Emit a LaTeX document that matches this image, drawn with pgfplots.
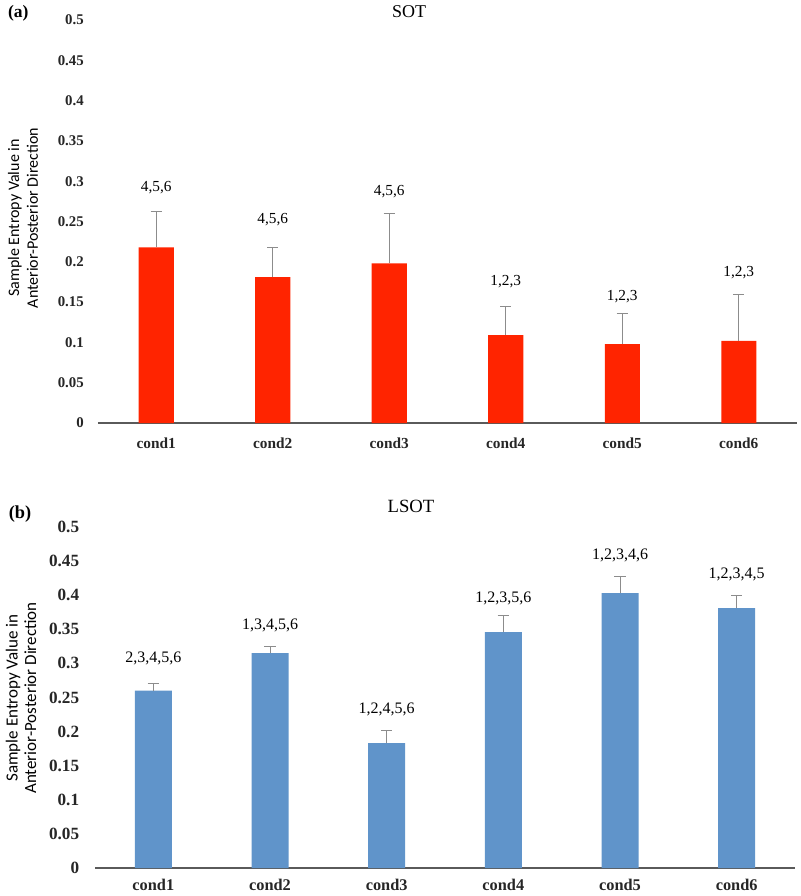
\documentclass[border=0pt]{standalone}
\usepackage{pgfplots}
\pgfplotsset{compat=1.18}
\usepackage{pgfplotstable}
\usepackage{fontspec}
\setmainfont{Liberation Serif}
\newfontfamily\calib{Carlito}
\definecolor{barred}{RGB}{255,36,0}
\definecolor{barblue}{RGB}{96,148,202}
\definecolor{axgray}{RGB}{90,90,90}
\definecolor{errgray}{RGB}{140,140,140}

\pgfplotstableread{
x y e
1 0.218 0.044
2 0.181 0.037
3 0.198 0.062
4 0.109 0.035
5 0.098 0.038
6 0.102 0.058
}\sot
\pgfplotstableread{
x y e
1 0.260 0.011
2 0.315 0.010
3 0.183 0.018
4 0.346 0.024
5 0.403 0.024
6 0.381 0.019
}\lsot

\pgfplotsset{
  mybars/.style={
    scale only axis,
    ymin=0, ymax=0.5,
    xmin=0.5, xmax=6.5,
    ytick={0,0.05,...,0.5},
    xtick={1,2,3,4,5,6},
    xticklabels={cond1,cond2,cond3,cond4,cond5,cond6},
    /pgf/number format/fixed,
    /pgf/number format/precision=2,
    /pgf/number format/assume math mode=true,
    axis x line=bottom,
    axis y line=left,
    y axis line style={draw=none},
    x axis line style={axgray, line width=1pt, -},
    major tick length=0pt,
    ytick style={draw=none},
    xtick style={draw=none},
    clip=false,
    tick label style={text=black!85},
    ybar, bar shift=0pt,
  },
}

\begin{document}
\begin{tikzpicture}
\useasboundingbox (0,0) rectangle (480pt,-537.6pt);

% ---------------- (a) SOT ----------------
\begin{axis}[mybars,
  at={(58.8pt,-253.8pt)}, anchor=south west,
  width=419.4pt, height=241.8pt,
  bar width=21pt,
  yticklabel style={font=\bfseries\fontsize{8.9}{9}\selectfont, xshift=-5pt},
  xticklabel style={font=\bfseries\fontsize{9.2}{10}\selectfont, yshift=-5.5pt},
]
\addplot[fill=barred, draw=none,
  error bars/.cd, y dir=plus, y explicit,
  error bar style={errgray, line width=0.6pt},
  error mark options={errgray, line width=0.6pt, mark size=3.4pt, rotate=90}]
  table[x=x, y=y, y error plus=e]{\sot};
\begin{scope}[font=\fontsize{9.2}{10}\selectfont]
\node at (axis cs:1,0.292) {4,5,6};
\node at (axis cs:2,0.252) {4,5,6};
\node at (axis cs:3,0.287) {4,5,6};
\node at (axis cs:4,0.175) {1,2,3};
\node at (axis cs:5,0.157) {1,2,3};
\node at (axis cs:6,0.186) {1,2,3};
\end{scope}
\end{axis}

% ---------------- (b) LSOT ----------------
\begin{axis}[mybars,
  at={(57pt,-520.8pt)}, anchor=south west,
  width=420pt, height=204.6pt,
  bar width=22.2pt,
  yticklabel style={font=\bfseries\fontsize{10.3}{11}\selectfont, xshift=-6pt},
  xticklabel style={font=\bfseries\fontsize{9.8}{10}\selectfont, yshift=-3.2pt},
]
\addplot[fill=barblue, draw=none,
  error bars/.cd, y dir=plus, y explicit,
  error bar style={errgray, line width=0.6pt},
  error mark options={errgray, line width=0.6pt, mark size=3.4pt, rotate=90}]
  table[x=x, y=y, y error plus=e]{\lsot};
\begin{scope}[font=\fontsize{9.6}{10}\selectfont]
\node at (axis cs:1,0.308) {2,3,4,5,6};
\node at (axis cs:2,0.356) {1,3,4,5,6};
\node at (axis cs:3,0.232) {1,2,4,5,6};
\node at (axis cs:4,0.396) {1,2,3,5,6};
\node at (axis cs:5,0.459) {1,2,3,4,6};
\node at (axis cs:6,0.431) {1,2,3,4,5};
\end{scope}
\end{axis}

% titles and panel letters
\node[font=\fontsize{10.8}{12}\selectfont] at (245.4pt,-7pt) {SOT};
\node[font=\fontsize{11.2}{12}\selectfont] at (246.6pt,-303.6pt) {LSOT};
\node[font=\bfseries\fontsize{10.5}{12}\selectfont] at (11pt,-8pt) {(a)};
\node[font=\bfseries\fontsize{11}{12}\selectfont] at (12pt,-308.4pt) {(b)};

% y labels
\node[rotate=90, align=center, font=\calib\fontsize{9.6}{11.2}\selectfont] at (13.8pt,-130.8pt)
  {Sample Entropy Value in\\Anterior-Posterior Direction};
\node[rotate=90, align=center, font=\calib\fontsize{10.2}{11.2}\selectfont] at (12.6pt,-418.8pt)
  {Sample Entropy Value in\\Anterior-Posterior Direction};
\end{tikzpicture}
\end{document}
